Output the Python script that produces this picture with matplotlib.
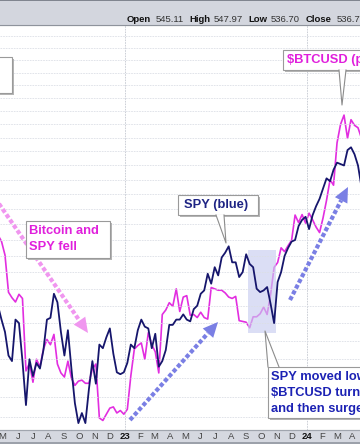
import numpy as np
import pandas as pd
import matplotlib
matplotlib.use("Agg")
import matplotlib.pyplot as plt
from matplotlib.patches import Rectangle, Polygon
from matplotlib.ticker import FixedLocator, NullLocator, NullFormatter

plt.rcParams['font.family'] = ['Liberation Sans', 'DejaVu Sans']

# weekly closes (Fridays)
week_start = '2022-04-22'
week_end = '2024-04-19'

spy_close = [420, 412, 405, 392, 389, 412, 410, 389, 366, 390, 381, 388, 385, 395, 412, 413, 427, 422, 405,
             392, 406, 385, 367, 357, 362, 357, 374, 389, 377, 398, 396, 402, 407, 393, 383, 382, 383,
             388, 398, 396, 406, 412, 408, 407, 396, 404, 386, 389, 395, 409, 409, 412, 412, 415, 412,
             411, 418, 420, 427, 429, 439, 433, 443, 438, 449, 452, 456, 446, 446, 437, 440, 451, 445,
             443, 430, 428, 429, 431, 421, 410, 434, 440, 450, 455, 459, 460, 469, 473, 475,
             467, 476, 482, 487, 494, 501, 499, 507, 512, 511, 510, 521, 523, 518, 510, 495]

# $BTCUSD in thousands
btc_close = [39.7, 38.5, 36.0, 30.0, 29.2, 28.6, 29.7, 29.1, 20.4, 21.2, 19.3, 21.6, 20.8, 22.7, 23.8, 23.2,
             24.4, 21.1, 20.2, 19.8, 21.4, 19.7, 19.0, 19.4, 19.5, 19.2, 19.2, 20.6, 21.1, 16.2, 16.0, 16.5,
             17.0, 17.1, 16.6, 16.8, 16.5,
             16.9, 19.9, 22.7, 23.1, 23.4, 21.6, 24.6, 23.2, 22.4, 20.2, 26.9, 27.5, 28.5, 28.0, 30.5, 27.3,
             29.3, 29.5, 26.8, 26.9, 26.5, 27.2, 26.5, 26.3, 30.7, 30.5, 30.3, 30.3, 29.9, 29.3, 29.1, 29.4,
             26.1, 26.0, 25.9, 25.2, 26.6, 26.6, 27.0, 27.9, 26.9, 29.7, 33.9, 34.7, 37.3, 36.6, 37.7, 38.7,
             43.8, 42.2, 43.9, 42.1,
             44.2, 42.8, 41.3, 40.2, 43.2, 47.1, 52.1, 50.7, 62.4, 68.3, 71.5, 63.8, 69.9, 68.0, 67.2, 63.8]

month_letters = ['J', 'F', 'M', 'A', 'M', 'J', 'J', 'A', 'S', 'O', 'N', 'D']
header_fields = [('Open', '545.11'), ('High', '547.97'), ('Low', '536.70'), ('Close', '536.70')]
shade_dates = ('2023-09-05', '2023-10-30')
shade_spy = (404.4, 453.7)

weeks = pd.date_range(week_start, week_end, freq='W-FRI')
assert len(weeks) == len(spy_close) == len(btc_close)

W, H = 360, 444
fig = plt.figure(figsize=(W / 100, H / 100), dpi=100, facecolor='#d5d8e0')
ax_btc = fig.add_axes([0, 14 / H, 1, 405 / H])
ax_btc.set_facecolor('white')
ax = ax_btc.twinx()
ax.set_zorder(ax_btc.get_zorder() + 1)
ax.patch.set_visible(False)

# header strip
fig.patches.append(Rectangle((0, 1 - 25 / H), 1, 25 / H, transform=fig.transFigure,
                             fc='#d3d6de', ec='none', zorder=0))
fig.patches.append(Rectangle((0, 1 - 1.5 / H), 1, 1.5 / H, transform=fig.transFigure,
                             fc='#80858f', ec='none', zorder=1))
fig.patches.append(Rectangle((0, 0), 1, 2 / H, transform=fig.transFigure,
                             fc='#9ca1aa', ec='none', zorder=1))
hx = [(127, 156), (189, 214), (248, 271), (306, 337)]
for (lab, val), (x1, x2) in zip(header_fields, hx):
    fig.text(x1 / W, 1 - 19 / H, lab, fontsize=6.8, fontweight='bold', color='#111111', va='center')
    fig.text(x2 / W, 1 - 19 / H, val, fontsize=6.8, color='#333333', va='center')

# scales
ax.set_yscale('log')
ax_btc.set_yscale('log')
ax.set_ylim(353.6, 619.5)
ax_btc.set_ylim(15.27, 111.2)
ax_btc.set_xlim(pd.Timestamp('2022-04-26'), pd.Timestamp('2024-04-16'))

ax.yaxis.set_major_locator(FixedLocator(list(range(360, 620, 10))))
ax.yaxis.set_minor_locator(NullLocator())
ax.yaxis.set_major_formatter(NullFormatter())
ax_btc.yaxis.set_major_locator(NullLocator())
ax_btc.yaxis.set_minor_locator(NullLocator())
for a in (ax, ax_btc):
    a.tick_params(axis='y', length=0, labelleft=False, labelright=False)
    a.spines['left'].set_visible(False)
    a.spines['right'].set_visible(False)
    a.spines['top'].set_color('#8e939c')
    a.spines['bottom'].set_color('#a0a5ae')

month_ticks = pd.date_range('2022-05-01', '2024-04-01', freq='MS')
labels = [str(d.year % 100) if d.month == 1 else month_letters[d.month - 1] for d in month_ticks]
ax_btc.set_xticks(month_ticks)
ax_btc.set_xticklabels(labels)
ax_btc.tick_params(axis='x', length=0, pad=1.5, labelsize=6.8, colors='#444444')
for t in ax_btc.get_xticklabels():
    if t.get_text().isdigit():
        t.set_fontweight('bold')
        t.set_color('#111111')
ax.tick_params(axis='x', length=0)

ax.grid(True, color='#dcdfe6', lw=0.6, ls=(0, (2, 1.2)))
for d in ('2023-01-01', '2024-01-01'):
    ax.axvline(pd.Timestamp(d), color='#c4c8d0', lw=0.6, ls=(0, (2, 1.2)), zorder=0.5)

# shaded period
ax.fill_between(pd.to_datetime(list(shade_dates)), shade_spy[0], shade_spy[1],
                color='#c9cdf0', alpha=0.65, lw=0, zorder=1)

ax_btc.plot(weeks, btc_close, color='#e22ee0', lw=1.2)
ax.plot(weeks, spy_close, color='#16166c', lw=1.3, zorder=3)


# annotation layout in pixel space -> axes fraction
def A(px, py):
    return (px / W, (430 - py) / 405)


def box(x0, y0, x1, y1):
    sx, sy = A(x0 + 2, y1 + 2)
    ax.add_patch(Rectangle((sx, sy), (x1 - x0) / W, (y1 - y0) / 405, transform=ax.transAxes,
                           fc='#b5b5b5', ec='none', zorder=10, clip_on=False))
    bx, by = A(x0, y1)
    ax.add_patch(Rectangle((bx, by), (x1 - x0) / W, (y1 - y0) / 405, transform=ax.transAxes,
                           fc='white', ec='#9a9a9a', lw=0.8, zorder=11, clip_on=False))


def pointer(b0, b1, tip):
    pts = [A(*b0), A(*tip), A(*b1)]
    ax.add_patch(Polygon(pts, closed=True, transform=ax.transAxes, fc='white', ec='none',
                         zorder=11.5, clip_on=False))
    ax.plot([p[0] for p in pts], [p[1] for p in pts], transform=ax.transAxes,
            color='#8c8c8c', lw=0.8, zorder=11.6, clip_on=False)


def label(px, py, s, color):
    ax.text(*A(px, py), s, transform=ax.transAxes, fontsize=9.3, fontweight='bold',
            color=color, va='center', ha='left', zorder=12, clip_on=False)


def dotted_arrow(p0, p1, color, head_len=15, head_w=7):
    p0 = np.array(p0, float)
    p1 = np.array(p1, float)
    u = (p1 - p0) / np.hypot(*(p1 - p0))
    n = np.array([-u[1], u[0]])
    base = p1 - head_len * u
    a0, a1 = A(*p0), A(*base)
    ax.plot([a0[0], a1[0]], [a0[1], a1[1]], transform=ax.transAxes, color=color, lw=3,
            ls=(0, (1, 0.55)), zorder=8, clip_on=False)
    tri = [A(*p1), A(*(base + head_w * n)), A(*(base - head_w * n))]
    ax.add_patch(Polygon(tri, closed=True, transform=ax.transAxes, fc=color, ec='none', zorder=8))


magenta = '#e020dc'
dotted_arrow((-5, 198), (88, 333), '#f096ef')
dotted_arrow((130, 420), (218, 322), '#7a7fe4')
dotted_arrow((290, 300), (348, 187), '#7a7fe4')

box(-60, 57, 12, 93)

box(283, 50, 430, 70)
pointer((339, 70), (346, 70), (342, 105))
label(287, 60, '$BTCUSD (pink)', magenta)

box(26, 221, 110, 258)
label(29, 231, 'Bitcoin and', magenta)
label(29, 247, 'SPY fell', magenta)

box(178, 195, 258, 215)
pointer((216, 215), (224, 215), (226, 243))
label(184, 205, 'SPY (blue)', '#1e2484')

box(268, 367, 440, 418)
pointer((268, 367), (279, 367), (265, 331))
label(271, 377, 'SPY moved lower,', '#1c22b4')
label(271, 393, '$BTCUSD turned up', '#1c22b4')
label(271, 409, 'and then surged', '#1c22b4')

fig.savefig('out.png', dpi=100, facecolor=fig.get_facecolor())
